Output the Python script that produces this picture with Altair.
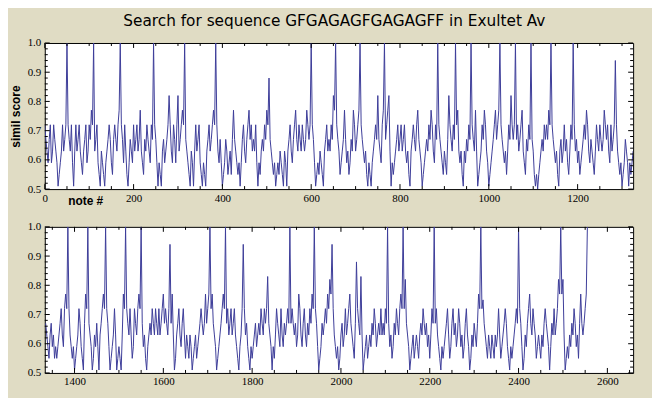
import altair as alt
import pandas as pd

TITLE = "Search for sequence GFGAGAGFGAGAGFF in Exultet Av"
Y_TITLE = "simil score"
X_TITLE = "note #"

# scores in hundredths, one value every NOTE_STEP notes
NOTE_STEP = 2.5
TOP_FIRST_NOTE = 0
BOTTOM_FIRST_NOTE = 1335

TOP_SCORES = [
    72, 67, 63, 59, 67, 72, 59, 63, 72, 67, 63, 59, 51, 55, 59, 63, 72, 63, 67, 72,
    100, 72, 67, 63, 72, 59, 51, 63, 72, 63, 67, 72, 63, 59, 55, 63, 67, 72, 59, 63,
    72, 67, 77, 72, 100, 63, 67, 72, 59, 55, 51, 63, 59, 55, 51, 59, 63, 67, 72, 67,
    59, 55, 67, 72, 67, 63, 72, 77, 100, 72, 67, 59, 72, 63, 55, 51, 59, 67, 63, 59,
    72, 63, 67, 72, 63, 67, 77, 63, 59, 55, 67, 63, 72, 67, 63, 59, 72, 67, 100, 72,
    67, 59, 51, 59, 55, 51, 63, 67, 59, 63, 67, 72, 82, 72, 63, 59, 72, 67, 59, 72,
    82, 63, 67, 72, 77, 72, 100, 67, 63, 59, 55, 51, 63, 59, 51, 63, 72, 63, 67, 72,
    59, 55, 51, 59, 55, 51, 63, 67, 72, 63, 67, 72, 77, 72, 100, 72, 63, 59, 67, 59,
    51, 55, 59, 67, 63, 55, 59, 63, 55, 67, 77, 67, 63, 59, 55, 59, 51, 59, 67, 72,
    63, 59, 67, 72, 77, 67, 72, 63, 67, 63, 72, 59, 51, 59, 55, 63, 67, 63, 72, 67,
    77, 72, 88, 67, 63, 59, 55, 59, 51, 55, 59, 55, 63, 59, 55, 51, 63, 59, 51, 63,
    67, 72, 63, 59, 67, 72, 77, 67, 63, 72, 67, 63, 72, 67, 63, 67, 77, 72, 67, 72,
    100, 72, 67, 59, 51, 55, 59, 55, 63, 59, 55, 51, 63, 67, 72, 63, 67, 63, 72, 67,
    82, 77, 100, 72, 67, 63, 55, 59, 63, 67, 77, 67, 59, 63, 55, 59, 67, 63, 77, 72,
    63, 67, 72, 77, 100, 72, 67, 63, 59, 63, 55, 51, 59, 55, 51, 59, 63, 67, 72, 67,
    82, 67, 63, 59, 72, 77, 100, 67, 72, 77, 82, 63, 51, 59, 55, 59, 63, 67, 72, 63,
    67, 72, 63, 67, 72, 63, 59, 63, 55, 51, 63, 67, 72, 67, 63, 72, 77, 67, 63, 59,
    51, 55, 59, 63, 67, 63, 72, 67, 77, 72, 63, 59, 72, 67, 100, 72, 67, 63, 59, 55,
    63, 59, 55, 67, 82, 72, 67, 63, 72, 67, 100, 72, 77, 63, 59, 63, 55, 51, 63, 59,
    67, 63, 72, 67, 100, 72, 67, 63, 77, 63, 51, 55, 59, 63, 72, 67, 77, 72, 63, 59,
    51, 55, 59, 63, 67, 72, 77, 67, 72, 77, 100, 72, 67, 63, 59, 63, 55, 63, 72, 67,
    82, 72, 67, 72, 100, 67, 72, 63, 67, 72, 77, 63, 59, 55, 67, 63, 72, 67, 100, 67,
    63, 55, 51, 55, 50, 55, 59, 63, 67, 63, 72, 67, 72, 67, 77, 72, 100, 72, 67, 63,
    59, 63, 55, 51, 63, 67, 59, 63, 72, 63, 67, 59, 55, 63, 72, 67, 100, 72, 63, 67,
    59, 63, 55, 59, 63, 67, 72, 67, 77, 72, 63, 59, 67, 63, 59, 55, 63, 72, 67, 63,
    72, 67, 63, 67, 77, 72, 67, 72, 63, 59, 72, 63, 67, 72, 94, 72, 63, 59, 55, 59,
    51, 55, 59, 67, 63, 59, 51, 59, 55, 59, 63,
]

BOTTOM_SCORES = [
    67, 63, 59, 55, 63, 67, 59, 63, 55, 59, 55, 59, 63, 67, 72, 63, 59, 72, 77, 72,
    100, 72, 63, 59, 55, 59, 51, 55, 59, 63, 72, 67, 59, 55, 51, 67, 77, 72, 100, 67,
    63, 59, 51, 55, 63, 59, 67, 59, 51, 63, 67, 72, 77, 72, 100, 72, 67, 59, 51, 55,
    59, 63, 72, 63, 51, 55, 59, 55, 51, 63, 77, 72, 100, 72, 67, 63, 72, 63, 55, 59,
    72, 67, 63, 72, 77, 72, 100, 67, 59, 63, 55, 51, 59, 63, 67, 63, 72, 67, 63, 72,
    67, 63, 72, 63, 67, 72, 77, 67, 72, 67, 63, 72, 94, 67, 77, 63, 51, 55, 63, 67,
    72, 63, 59, 67, 72, 63, 55, 63, 59, 55, 63, 59, 51, 55, 59, 63, 55, 59, 63, 67,
    72, 67, 63, 67, 77, 67, 72, 77, 100, 72, 77, 67, 63, 59, 51, 55, 59, 63, 67, 72,
    77, 72, 100, 67, 72, 63, 67, 72, 63, 67, 72, 63, 59, 55, 51, 59, 63, 72, 94, 72,
    63, 67, 59, 55, 51, 59, 55, 59, 63, 67, 59, 63, 67, 63, 72, 67, 63, 72, 67, 72,
    83, 67, 63, 59, 51, 59, 55, 63, 72, 67, 63, 59, 72, 63, 59, 67, 63, 67, 72, 67,
    100, 67, 72, 67, 63, 67, 59, 63, 77, 72, 63, 59, 67, 72, 63, 59, 67, 63, 72, 67,
    77, 72, 100, 72, 67, 59, 51, 55, 59, 67, 63, 67, 72, 67, 77, 72, 82, 77, 94, 72,
    63, 59, 55, 59, 51, 55, 63, 67, 59, 63, 72, 63, 67, 72, 77, 67, 63, 59, 55, 67,
    88, 72, 67, 63, 83, 63, 51, 55, 59, 63, 55, 59, 63, 59, 67, 63, 72, 67, 59, 63,
    67, 63, 72, 63, 67, 63, 72, 67, 100, 67, 59, 63, 55, 59, 67, 63, 72, 67, 63, 72,
    77, 72, 100, 72, 82, 67, 63, 59, 51, 55, 59, 63, 55, 59, 63, 59, 55, 63, 67, 63,
    72, 67, 63, 67, 59, 63, 55, 63, 72, 67, 100, 67, 72, 63, 59, 55, 51, 59, 55, 59,
    63, 67, 72, 63, 55, 59, 67, 72, 63, 67, 59, 63, 72, 67, 59, 63, 55, 59, 67, 72,
    63, 59, 51, 55, 63, 59, 67, 63, 59, 67, 77, 72, 100, 72, 75, 67, 63, 59, 55, 63,
    59, 55, 63, 59, 55, 63, 59, 63, 72, 63, 55, 59, 63, 67, 72, 67, 59, 55, 51, 59,
    55, 59, 63, 67, 72, 67, 100, 72, 67, 59, 51, 55, 63, 59, 67, 72, 77, 67, 63, 72,
    67, 63, 55, 59, 63, 59, 55, 63, 59, 67, 72, 67, 63, 59, 51, 59, 67, 63, 72, 63,
    67, 72, 82, 77, 100, 77, 82, 63, 51, 55, 59, 55, 63, 59, 67, 63, 72, 67, 59, 63,
    55, 67, 77, 67, 63, 67, 72, 77, 100,
]

TOP_DOMAIN = [0, 1325]
BOTTOM_DOMAIN = [1333, 2658]
TOP_X_LABELS = [0, 200, 400, 600, 800, 1000, 1200]
BOTTOM_X_LABELS = [1400, 1600, 1800, 2000, 2200, 2400, 2600]
Y_LABELS = [0.5, 0.6, 0.7, 0.8, 0.9, 1.0]
TOP_X_MINOR = [v for v in range(50, 1325, 50) if v % 200]
BOTTOM_X_MINOR = [v for v in range(1350, 2658, 50) if v % 200]
Y_MINOR = [0.52, 0.54, 0.56, 0.58, 0.62, 0.64, 0.66, 0.68, 0.72, 0.74, 0.76, 0.78,
           0.82, 0.84, 0.86, 0.88, 0.92, 0.94, 0.96, 0.98]

W, H = 592, 147
MAJOR_LEN, MINOR_LEN = 5, 3
LINE_COLOR = "#3D3D99"
BG = "#E0DCC4"
LABEL_FONT = "Liberation Serif"
TITLE_FONT = "Liberation Sans"


def panel(first_note, scores, domain, x_labels, x_minor, x_title, y_title):
    df = pd.DataFrame({
        "note": [first_note + NOTE_STEP * i for i in range(len(scores))],
        "score": [s / 100 for s in scores],
    })
    xs = alt.Scale(domain=domain, nice=False, zero=False)
    ys = alt.Scale(domain=[0.5, 1.0], nice=False, zero=False)
    x_axis = alt.Axis(values=x_labels, ticks=False, domain=False, grid=False,
                      labelFont=LABEL_FONT, labelFontSize=11, labelColor="black",
                      labelPadding=3, labelFlush=False, format="d",
                      titleFont=TITLE_FONT, titleFontSize=12, titleFontWeight="bold",
                      titleColor="black", titleX=23, titleY=16, titleAlign="left",
                      titleBaseline="alphabetic")
    y_axis = alt.Axis(values=Y_LABELS, ticks=False, domain=False, grid=False,
                      labelFont=LABEL_FONT, labelFontSize=11, labelColor="black",
                      labelPadding=4, labelFlush=False, format=".1f",
                      titleFont=TITLE_FONT, titleFontSize=12, titleFontWeight="bold",
                      titleColor="black", titlePadding=5)
    X = lambda: alt.X("note:Q", scale=xs, axis=x_axis, title=x_title)
    Y = lambda: alt.Y("score:Q", scale=ys, axis=y_axis, title=y_title)
    line = alt.Chart(df).mark_line(color=LINE_COLOR, strokeWidth=1, clip=True).encode(
        x=X(), y=Y())
    layers = [line]
    for vals, ln in ((x_labels, MAJOR_LEN), (x_minor, MINOR_LEN)):
        base = alt.Chart(pd.DataFrame({"note": vals})).mark_rule(color="black", strokeWidth=1)
        layers.append(base.encode(x=X(), y=alt.value(H), y2=alt.value(H - ln)))
        layers.append(base.encode(x=X(), y=alt.value(0), y2=alt.value(ln)))
    for vals, ln in ((Y_LABELS, MAJOR_LEN), (Y_MINOR, MINOR_LEN)):
        base = alt.Chart(pd.DataFrame({"score": vals})).mark_rule(color="black", strokeWidth=1)
        layers.append(base.encode(y=Y(), x=alt.value(0), x2=alt.value(ln)))
        layers.append(base.encode(y=Y(), x=alt.value(W), x2=alt.value(W - ln)))
    return alt.layer(*layers).properties(width=W, height=H)


top = panel(TOP_FIRST_NOTE, TOP_SCORES, TOP_DOMAIN, TOP_X_LABELS, TOP_X_MINOR, X_TITLE, Y_TITLE)
bottom = panel(BOTTOM_FIRST_NOTE, BOTTOM_SCORES, BOTTOM_DOMAIN, BOTTOM_X_LABELS, BOTTOM_X_MINOR, None, None)

chart = alt.vconcat(top, bottom, spacing=38, bounds="flush").properties(
    title=alt.TitleParams(TITLE, font="DejaVu Sans", fontSize=15.4, fontWeight="normal",
                          color="black", anchor="middle", offset=7.5, dx=13),
    background=BG,
    padding={"left": 0, "top": 4, "right": 18, "bottom": 9},
).configure_view(stroke="black", strokeWidth=1, fill="white")

chart.save("out.html", embed_options={"renderer": "svg", "actions": False})
